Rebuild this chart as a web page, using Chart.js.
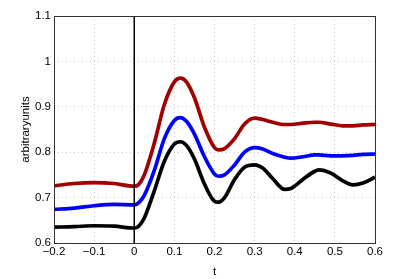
<!DOCTYPE html>
<html>
<head>
<meta charset="utf-8">
<script src="https://cdn.jsdelivr.net/npm/chart.js@4/dist/chart.umd.min.js"></script>
<style>
  html, body { margin: 0; padding: 0; background: #fff; }
  #wrap { width: 415px; height: 279px; }
</style>
</head>
<body>
<div id="wrap"><canvas id="plot"></canvas></div>
<script>
// time axis shared by all three curves
const tVals = [-0.2, -0.15, -0.1, -0.05, 0, 0.01, 0.025, 0.05, 0.075, 0.1, 0.115, 0.13, 0.15, 0.175, 0.2, 0.21,
  0.225, 0.25, 0.275, 0.3, 0.32, 0.345, 0.375, 0.39, 0.42, 0.45, 0.46, 0.49, 0.52, 0.545, 0.57, 0.6];
const redVals = [0.726, 0.731, 0.733, 0.731, 0.725, 0.728, 0.75, 0.82, 0.905, 0.955, 0.963, 0.955, 0.92, 0.855, 0.81, 0.805,
  0.808, 0.83, 0.862, 0.875, 0.872, 0.866, 0.861, 0.861, 0.864, 0.866, 0.866, 0.862, 0.858, 0.858, 0.86, 0.861];
const blueVals = [0.674, 0.677, 0.682, 0.685, 0.684, 0.688, 0.705, 0.76, 0.83, 0.87, 0.876, 0.868, 0.84, 0.79, 0.752, 0.747,
  0.75, 0.772, 0.8, 0.81, 0.807, 0.797, 0.789, 0.787, 0.79, 0.794, 0.794, 0.792, 0.792, 0.793, 0.795, 0.796];
const blackVals = [0.635, 0.636, 0.638, 0.637, 0.633, 0.636, 0.655, 0.715, 0.78, 0.818, 0.823, 0.815, 0.785, 0.73, 0.692, 0.69,
  0.7, 0.74, 0.767, 0.772, 0.765, 0.742, 0.718, 0.72, 0.74, 0.758, 0.761, 0.754, 0.737, 0.728, 0.732, 0.745];
const xTicks = [-0.2, -0.1, 0, 0.1, 0.2, 0.3, 0.4, 0.5, 0.6];
const yTicks = [0.6, 0.7, 0.8, 0.9, 1, 1.1];
const stimLine = [0, 0];   // vertical marker at t = 0
const stimRange = [0.6, 1.1];

const pts = (vals) => vals.map((v, i) => ({ x: tVals[i], y: v }));

const boxPlugin = {
  id: 'box',
  afterDraw(chart) {
    const a = chart.chartArea, c = chart.ctx;
    c.save();
    c.strokeStyle = '#333';
    c.lineWidth = 1;
    c.strokeRect(Math.round(a.left) + 0.5, Math.round(a.top) + 0.5, Math.round(a.right - a.left), Math.round(a.bottom - a.top));
    c.restore();
  }
};

const line = (label, vals, color) => ({
  label, data: pts(vals), borderColor: color, borderWidth: 3.7,
  pointRadius: 0, cubicInterpolationMode: 'monotone', fill: false
});

const tickFont = { family: 'Liberation Sans', size: 11.5 };

new Chart(document.getElementById('plot'), {
  type: 'line',
  data: {
    datasets: [
      { label: 'stim', data: stimLine.map((x, i) => ({ x, y: stimRange[i] })), borderColor: '#000', borderWidth: 1.5, pointRadius: 0 },
      line('red', redVals, '#a00000'),
      line('blue', blueVals, '#0000ff'),
      line('black', blackVals, '#000000')
    ]
  },
  options: {
    responsive: true,
    maintainAspectRatio: false,
    animation: false,
    layout: { padding: { left: 0, right: 40, top: 16, bottom: 0 } },
    plugins: { legend: { display: false }, tooltip: { enabled: false } },
    scales: {
      x: {
        type: 'linear', min: -0.2, max: 0.6,
        afterBuildTicks: (s) => { s.ticks = xTicks.map(v => ({ value: v })); },
        afterFit: (s) => { s.height = 36; },
        ticks: { color: '#000', font: tickFont, padding: 2, maxRotation: 0,
          callback: (v) => String(Math.round(v * 10) / 10).replace('-', '\u2212') },
        grid: { color: '#c8c8c8', drawTicks: false },
        border: { display: false, dash: [1, 3] },
        title: { display: true, text: 't', color: '#000', font: tickFont, padding: { top: 5, bottom: 0 } }
      },
      y: {
        min: 0.6, max: 1.1,
        afterBuildTicks: (s) => { s.ticks = yTicks.map(v => ({ value: v })); },
        afterFit: (s) => { s.width = 54; },
        ticks: { color: '#000', font: tickFont, padding: 3,
          callback: (v) => String(Math.round(v * 10) / 10) },
        grid: { color: '#c8c8c8', drawTicks: false },
        border: { display: false, dash: [1, 3] },
        title: { display: true, text: 'arbitraryunits', color: '#000', font: tickFont, padding: { top: 19, bottom: 4 } }
      }
    }
  },
  plugins: [boxPlugin]
});
</script>
</body>
</html>
